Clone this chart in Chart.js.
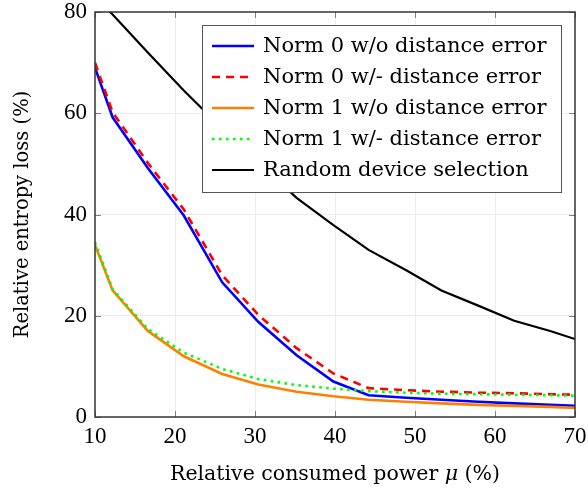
<!DOCTYPE html>
<html>
<head>
<meta charset="utf-8">
<script src="https://cdn.jsdelivr.net/npm/chart.js@4.4.1/dist/chart.umd.min.js"></script>
<style>
  html, body { margin: 0; padding: 0; background: #fff; }
  #wrap { width: 588px; height: 495px; }
</style>
</head>
<body>
<div id="wrap"><canvas id="c" width="588" height="495"></canvas></div>
<script>
  // relative consumed power (%)
  const powerX = [10, 12.2, 16.6, 21.1, 25.9, 30.4, 35.2, 39.8, 44.2, 48.9, 53.3, 57.9, 62.4, 66.9, 70];

  // relative entropy loss (%)
  const norm0NoErr = [69, 59.2, 49.2, 39.8, 26.6, 18.8, 12.2, 7.0, 4.3, 3.8, 3.4, 3.0, 2.7, 2.4, 2.2];
  const norm0Err   = [70, 60.2, 50.2, 41.0, 28.0, 20.2, 13.6, 8.6, 5.7, 5.3, 5.0, 4.8, 4.7, 4.5, 4.4];
  const norm1NoErr = [34, 25.0, 17.0, 12.0, 8.5, 6.4, 5.0, 4.1, 3.4, 3.0, 2.7, 2.4, 2.2, 2.0, 1.8];
  const norm1Err   = [34.5, 25.2, 17.4, 12.7, 9.5, 7.5, 6.3, 5.6, 5.1, 4.8, 4.6, 4.5, 4.4, 4.3, 4.2];
  const randomSel  = [83, 79.5, 72, 64.5, 57, 50.3, 43.3, 37.9, 33, 29, 25, 22, 19, 17, 15.4];

  const xTicks = [10, 20, 30, 40, 50, 60, 70];
  const yTicks = [0, 20, 40, 60, 80];

  const serif = "'Liberation Serif', 'DejaVu Serif', serif";
  const wide = "'DejaVu Serif', serif";

  const pts = arr => arr.map((v, i) => ({ x: powerX[i], y: v }));

  // frame, inward ticks, legend and axis titles
  const decor = {
    id: "decor",
    afterDatasetsDraw(chart) {
      const { ctx, chartArea: a, scales } = chart;
      ctx.save();
      ctx.strokeStyle = "#808080";
      ctx.lineWidth = 1;
      xTicks.forEach(v => {
        const x = Math.round(scales.x.getPixelForValue(v)) + 0.5;
        ctx.beginPath();
        ctx.moveTo(x, a.bottom); ctx.lineTo(x, a.bottom - 6);
        ctx.moveTo(x, a.top); ctx.lineTo(x, a.top + 6);
        ctx.stroke();
      });
      yTicks.forEach(v => {
        const y = Math.round(scales.y.getPixelForValue(v)) + 0.5;
        ctx.beginPath();
        ctx.moveTo(a.left, y); ctx.lineTo(a.left + 6, y);
        ctx.moveTo(a.right, y); ctx.lineTo(a.right - 6, y);
        ctx.stroke();
      });
      ctx.strokeStyle = "#333";
      ctx.lineWidth = 1.5;
      ctx.strokeRect(a.left, a.top, a.right - a.left, a.bottom - a.top);

      // legend
      const bx = 202, by = 25, bw = 359, bh = 167;
      ctx.fillStyle = "#fff";
      ctx.fillRect(bx, by, bw, bh);
      ctx.strokeStyle = "#555";
      ctx.lineWidth = 1;
      ctx.strokeRect(bx + 0.5, by + 0.5, bw, bh);
      ctx.font = "21px " + wide;
      ctx.textBaseline = "middle";
      ctx.textAlign = "left";
      chart.data.datasets.forEach((ds, i) => {
        const y = 46 + i * 31;
        ctx.strokeStyle = ds.borderColor;
        ctx.lineWidth = ds.borderWidth;
        ctx.setLineDash(ds.borderDash || []);
        ctx.beginPath();
        ctx.moveTo(212, y); ctx.lineTo(254, y);
        ctx.stroke();
        ctx.setLineDash([]);
        ctx.fillStyle = "#000";
        ctx.fillText(ds.label, 263, y + 1);
      });

      // x title with italic mu
      ctx.fillStyle = "#000";
      ctx.textBaseline = "alphabetic";
      const p1 = "Relative consumed power ", p2 = "\u03bc", p3 = " (%)";
      const fN = "20.5px " + wide, fI = "italic 20.5px " + wide;
      ctx.font = fN; const w1 = ctx.measureText(p1).width, w3 = ctx.measureText(p3).width;
      ctx.font = fI; const w2 = ctx.measureText(p2).width;
      let tx = (a.left + a.right) / 2 - (w1 + w2 + w3) / 2;
      const ty = 480;
      ctx.font = fN; ctx.fillText(p1, tx, ty); tx += w1;
      ctx.font = fI; ctx.fillText(p2, tx, ty); tx += w2;
      ctx.font = fN; ctx.fillText(p3, tx, ty);

      // y title
      ctx.translate(28, (a.top + a.bottom) / 2);
      ctx.rotate(-Math.PI / 2);
      ctx.textAlign = "center";
      ctx.font = "19.5px " + wide;
      ctx.fillText("Relative entropy loss (%)", 0, 0);
      ctx.restore();
    }
  };

  const lineDs = (label, data, color, width, dash, order) => ({
    label, data: pts(data), borderColor: color, backgroundColor: color,
    borderWidth: width, borderDash: dash, pointRadius: 0, tension: 0, order
  });

  new Chart(document.getElementById("c"), {
    type: "line",
    data: {
      datasets: [
        lineDs("Norm 0 w/o distance error", norm0NoErr, "#0000ff", 2.6, [], 5),
        lineDs("Norm 0 w/- distance error", norm0Err, "#ff0000", 2.6, [8, 6], 4),
        lineDs("Norm 1 w/o distance error", norm1NoErr, "#ff8000", 2.6, [], 3),
        lineDs("Norm 1 w/- distance error", norm1Err, "#00ff00", 2.6, [2.6, 4.4], 2),
        lineDs("Random device selection", randomSel, "#000000", 2.2, [], 1)
      ]
    },
    options: {
      responsive: false,
      animation: false,
      layout: { padding: { top: 0, right: 0, left: 0, bottom: 0 } },
      plugins: { legend: { display: false }, tooltip: { enabled: false } },
      scales: {
        x: {
          type: "linear", min: 10, max: 70,
          afterFit: s => { s.height = 78; s.paddingRight = 13; s.paddingLeft = 0; },
          afterBuildTicks: s => { s.ticks = xTicks.map(v => ({ value: v })); },
          grid: {
            drawTicks: false,
            color: c => (c.tick.value === 10 || c.tick.value === 70) ? "rgba(0,0,0,0)" : "#ebebeb"
          },
          border: { display: false },
          ticks: { color: "#000", padding: 6, maxRotation: 0, font: { family: serif, size: 23 } }
        },
        y: {
          min: 0, max: 80,
          afterFit: s => { s.width = 95; s.paddingTop = 12; s.paddingBottom = 0; },
          afterBuildTicks: s => { s.ticks = yTicks.map(v => ({ value: v })); },
          grid: {
            drawTicks: false,
            color: c => (c.tick.value === 0 || c.tick.value === 80) ? "rgba(0,0,0,0)" : "#ebebeb"
          },
          border: { display: false },
          ticks: { color: "#000", padding: 8, font: { family: serif, size: 23 } }
        }
      }
    },
    plugins: [decor]
  });
</script>
</body>
</html>
